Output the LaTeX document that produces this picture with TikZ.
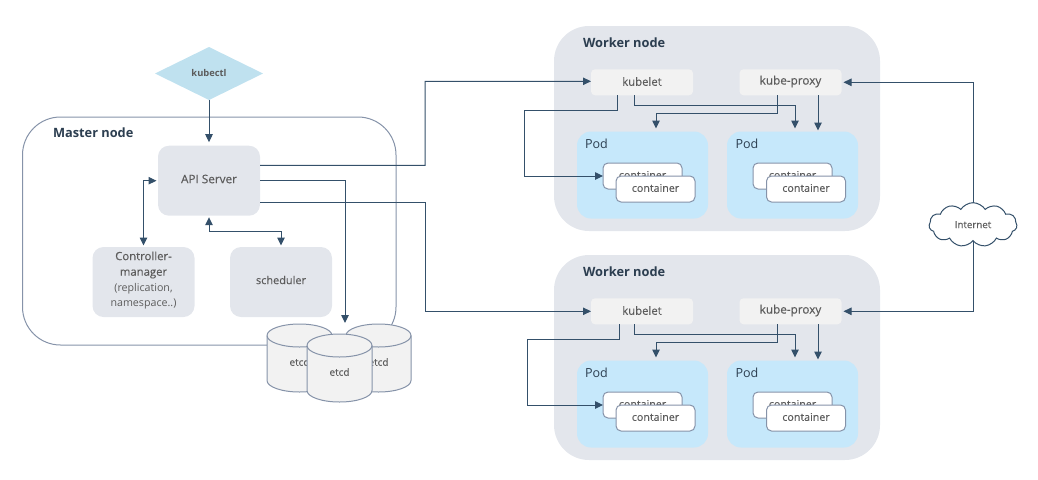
\documentclass[tikz,border=0pt]{standalone}
\usepackage{fontspec}
\setmainfont{Open Sans}
\newfontfamily\medfont{Open Sans}[FakeBold=0.25]
\usetikzlibrary{arrows.meta,calc,shapes.geometric,shapes.symbols}
\newcommand{\px}{*0.75pt}
\definecolor{linec}{HTML}{34506A}
\definecolor{edgec}{HTML}{8693A9}
\definecolor{txtc}{HTML}{5C5C5C}
\definecolor{titlec}{HTML}{2C3E50}
\definecolor{grayfill}{HTML}{E3E6EC}
\definecolor{lightfill}{HTML}{F2F2F2}
\definecolor{podfill}{HTML}{C6E8FB}
\definecolor{diafill}{HTML}{BFE1EF}
\tikzset{
  x=0.75pt,y=-0.75pt,
  every node/.style={inner sep=0pt,outer sep=0pt,text=txtc,font=\medfont\fontsize{8.5}{12}\selectfont},
  arrowline/.style={draw=linec,line width=0.75pt,-{Triangle[length=6pt,width=5.6pt]}},
  bothline/.style={draw=linec,line width=0.75pt,{Triangle[length=6pt,width=5.6pt]}-{Triangle[length=6pt,width=5.6pt]}},
  mainbox/.style={rectangle,rounded corners=11\px,fill=grayfill,minimum width=102\px,minimum height=70\px,align=center},
  smallbox/.style={rectangle,rounded corners=4\px,fill=lightfill,minimum width=102\px,minimum height=26\px},
  workerbox/.style={rectangle,rounded corners=35\px,fill=grayfill,minimum width=326\px,minimum height=205\px},
  podbox/.style={rectangle,rounded corners=14\px,fill=podfill,minimum width=131\px,minimum height=87\px},
  contbox/.style={rectangle,rounded corners=5\px,draw=edgec,line width=0.75pt,fill=white,minimum width=79\px,minimum height=26\px},
  conttxt/.style={font=\medfont\fontsize{8}{12}\selectfont},
  titletxt/.style={anchor=west,text=titlec,font=\normalfont\bfseries\fontsize{9.6}{12}\selectfont},
  podtxt/.style={anchor=west,text=titlec,font=\fontsize{9.4}{12}\selectfont},
  etcdbody/.style={draw=edgec,line width=0.75pt,fill=lightfill},
  etcdtxt/.style={font=\medfont\fontsize{7.5}{10}\selectfont},
}
\newcommand{\etcdcan}[3]{%
  \node[minimum width=65\px,minimum height=68\px] (#1) at (#2,#3) {};
  \draw[etcdbody] ($(#1.north west)+(0,11.5)$) arc[start angle=180,end angle=0,x radius=32.5\px,y radius=11.5\px]
     -- ($(#1.south east)+(0,-11.5)$) arc[start angle=0,end angle=-180,x radius=32.5\px,y radius=11.5\px] -- cycle;
  \draw[draw=edgec,line width=0.75pt] ($(#1.north west)+(0,11.5)$) arc[start angle=180,end angle=360,x radius=32.5\px,y radius=11.5\px];
  \node[etcdtxt] (#1txt) at (#2,#3+4) {etcd};
}
\begin{document}
\begin{tikzpicture}
\useasboundingbox (0,0) rectangle (1038,479);
% master
\node[rectangle,draw=edgec,line width=0.75pt,rounded corners=38\px,minimum width=373.5\px,minimum height=228\px] (master) at (209.25,231) {};
\node[titletxt] (mastertitle) at (53,132.5) {Master node};
% kubectl
\node[diamond,fill=diafill,minimum width=108\px,minimum height=53\px,aspect=2,inner sep=0pt] (kubectl) at (209,73.5) {};
\node[font=\normalfont\bfseries\fontsize{7}{10}\selectfont] (kubectltxt) at (209,72.5) {kubectl};
% control plane
\node[mainbox] (api) at (209,180.7) {};
\node[font=\medfont\fontsize{8.8}{12}\selectfont] (apitxt) at (209,179) {API Server};
\node[mainbox] (ctrl) at (143.5,282) {};
\node[align=center,font=\medfont\fontsize{8.5}{11.7}\selectfont] (ctrltxt) at (143.5,280.5) {Controller-\\manager\\[0pt]{\normalfont\fontsize{8}{11.7}\selectfont (replication,}\\{\normalfont\fontsize{8}{11.7}\selectfont namespace..)}};
\node[mainbox] (sched) at (281,282) {};
\node[font=\medfont\fontsize{8.2}{12}\selectfont] (schedtxt) at (281,280) {scheduler};
% etcd
\etcdcan{etcdl}{299.5}{358}
\etcdcan{etcdr}{378.5}{358}
\etcdcan{etcdm}{339.5}{368}
% workers
\foreach \w/\dy in {a/0,b/229}{
  \node[workerbox] (\w-worker) at (717,128.5+\dy) {};
  \node[titletxt] (\w-title) at (583,42.5+\dy) {Worker node};
  \node[smallbox] (\w-kubelet) at (642,82.3+\dy) {};
  \node (\w-kubelettxt) at (642,81.5+\dy) {kubelet};
  \node[smallbox] (\w-proxy) at (790.5,82.3+\dy) {};
  \node[font=\medfont\fontsize{8.8}{12}\selectfont] (\w-proxytxt) at (790.5,81.5+\dy) {kube-proxy};
  \node[podbox] (\w-podl) at (642.5,175+\dy) {};
  \node[podbox] (\w-podr) at (792.5,175+\dy) {};
  \node[podtxt] (\w-podltxt) at (585,143.5+\dy) {Pod};
  \node[podtxt] (\w-podrtxt) at (735.5,143.5+\dy) {Pod};
  \node[contbox] (\w-cl1) at (642.5,176+\dy) {};
  \node[conttxt] (\w-cl1t) at (642.5,175+\dy) {container};
  \node[contbox] (\w-cl2) at (655.5,189+\dy) {};
  \node[conttxt] (\w-cl2t) at (655.5,188+\dy) {container};
  \node[contbox] (\w-cr1) at (792.5,176+\dy) {};
  \node[conttxt] (\w-cr1t) at (792.5,175+\dy) {container};
  \node[contbox] (\w-cr2) at (806,189+\dy) {};
  \node[conttxt] (\w-cr2t) at (806,188+\dy) {container};
  \draw[arrowline] ($(\w-kubelet.south)+(-8,0)$) -- ++(0,10) -| ($(\w-podr.north)+(2.5,-3)$);
  \draw[arrowline] ($(\w-proxy.south)+(-13.5,0)$) -- ++(0,18) -| ($(\w-podl.north)+(13.5,-3)$);
  \draw[arrowline] ($(\w-proxy.south)+(27.5,0)$) -- ($(\w-podr.north)+(25.5,-1)$);
}
\draw[arrowline] ($(a-kubelet.south)+(-25,0)$) -- ++(0,15) -- ++(-93,0) |- (a-cl1.west);
\draw[arrowline] ($(b-kubelet.south)+(-23,0)$) -- ++(0,15) -- ++(-92,0) |- (b-cl1.west);
% internet
\node[cloud,cloud puffs=11,cloud puff arc=115,aspect=2.1,draw=linec,line width=0.75pt,fill=white,minimum width=88\px,minimum height=44\px,font=\medfont\fontsize{7.3}{10}\selectfont] (inet) at (973,224.7) {Internet};
% connectors
\draw[arrowline] (kubectl.south) -- ($(api.north)+(0,-3.5)$);
\draw[bothline,shorten >=1.5\px] ($(ctrl.north)+(0,-1.5)$) |- (api.west);
\draw[bothline] ($(sched.north)+(0,-1.5)$) -- ++(0,-14.5) -| ($(api.south)+(0,1.5)$);
\draw[arrowline] ($(api.east)+(0,-15.4)$) -- (425,165.3) |- ($(a-kubelet.west)+(0,-1)$);
\draw[arrowline] (api.east) -| ($(etcdm.north)+(5.5,-11)$);
\draw[arrowline] ($(api.east)+(0,21.6)$) -- (425,202.3) |- (b-kubelet.west);
\draw[arrowline,shorten >=2\px] (inet.north) |- (a-proxy.east);
\draw[arrowline,shorten >=2\px] (inet.south) |- (b-proxy.east);
\end{tikzpicture}
\end{document}
